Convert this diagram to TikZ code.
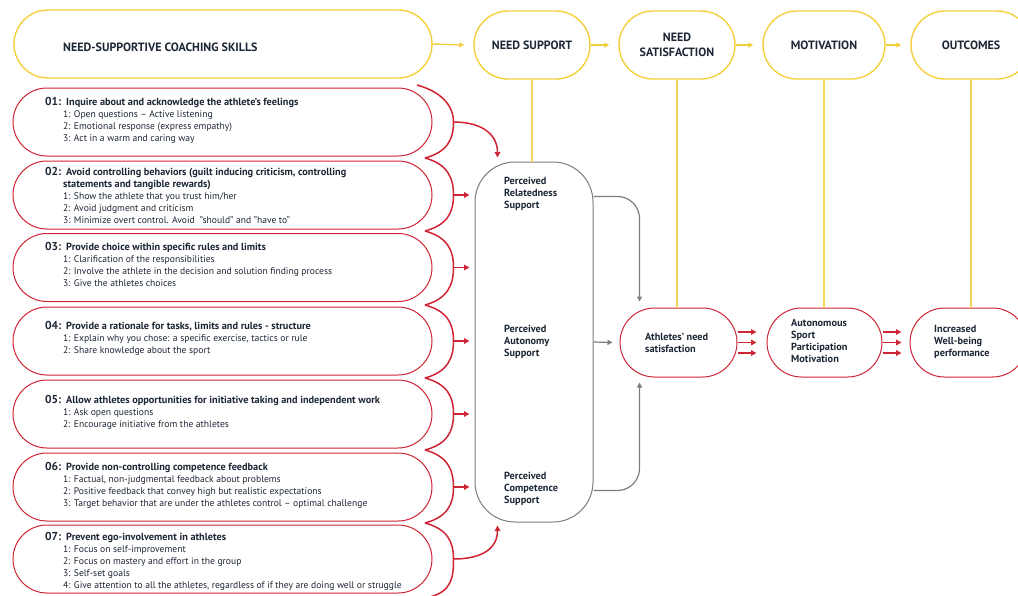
\documentclass[tikz,border=0pt]{standalone}
\usepackage{fontspec}
\setmainfont{PT Sans}
\usetikzlibrary{shapes.misc,arrows.meta,calc}
\definecolor{ink}{RGB}{28,38,52}
\definecolor{cyel}{RGB}{244,208,63}
\definecolor{cred}{RGB}{206,36,52}
\definecolor{cgray}{RGB}{125,125,125}
\newcommand\sknum[1]{\makebox[18pt][l]{\fontsize{11.5}{12}\selectfont\bfseries #1}}
\newcommand\sktitle{\bfseries\fontsize{10.3}{12.2}\selectfont}
\newcommand\skitem{\fontsize{9.6}{12.2}\selectfont}
\tikzset{
  ybox/.style={draw=cyel, line width=1.4pt, rounded rectangle, minimum height=68pt,
    inner sep=0pt, text=ink, font=\bfseries\fontsize{12}{14.5}\selectfont, align=center},
  rbox/.style={draw=cred, line width=1pt, rounded rectangle, minimum height=68pt, inner sep=0pt},
  skilltext/.style={anchor=base west, inner sep=0pt, text=ink, font=\fontsize{9.6}{12.2}\selectfont},
  lbl/.style={anchor=base west, inner sep=0pt, text=ink, font=\bfseries\fontsize{10.3}{12.2}\selectfont},
  yarrow/.style={draw=cyel, line width=1.4pt, -{Triangle[length=5pt,width=5pt]}},
  yline/.style={draw=cyel!85!white, line width=1.3pt},
  brace/.style={draw=cred, line width=1.5pt},
  rarrow/.style={draw=cred, line width=1.5pt, -{Triangle[length=5.5pt,width=5.5pt]}},
  garrow/.style={draw=cgray, line width=1.2pt, -{Triangle[length=5pt,width=5pt]}},
}
\begin{document}
\begin{tikzpicture}[x=1pt,y=-1pt]
\useasboundingbox (0,0) rectangle (1018,595);

% top row: stages of the model
\node[ybox, minimum width=418pt] (b1) at (223,44) {};
\node[anchor=base west, inner sep=0pt, text=ink, font=\bfseries\fontsize{12}{14.5}\selectfont] (b1t) at (63,51) {NEED-SUPPORTIVE COACHING SKILLS};
\node[ybox, minimum width=116pt] (b2) at (532,45) {NEED SUPPORT};
\node[ybox, minimum width=116pt] (b3) at (677,45) {NEED\\SATISFACTION};
\node[ybox, minimum width=122pt] (b4) at (824,45) {MOTIVATION};
\node[ybox, minimum width=120pt] (b5) at (971,45) {OUTCOMES};
\draw[yarrow] (b1.east) -- ($(b2.west)+(-9,0)$);
\draw[yarrow] (b2.east) -- ($(b3.west)+(-9,0)$);
\draw[yarrow] (b3.east) -- ($(b4.west)+(-9,0)$);
\draw[yarrow] (b4.east) -- ($(b5.west)+(-9,0)$);

% coaching skills
\node[rbox, minimum width=419pt] (s1) at (222.5,122) {};
\node[rbox, minimum width=419pt] (s2) at (222.5,195) {};
\node[rbox, minimum width=419pt] (s3) at (222.5,267.5) {};
\node[rbox, minimum width=419pt] (s4) at (222.5,341) {};
\node[rbox, minimum width=419pt] (s5) at (222.5,414) {};
\node[rbox, minimum width=419pt] (s6) at (222.5,487) {};
\node[rbox, minimum width=419pt] (s7) at (222.5,559) {};

\node[skilltext] (t1) at (45,105) {\begin{tabular}[t]{@{}l@{}l@{}}
\sknum{01:} & \sktitle\hspace{3pt}Inquire about and acknowledge the athlete's feelings\\
& \skitem 1: Open questions – Active listening\\
& \skitem 2: Emotional response (express empathy)\\
& \skitem 3: Act in a warm and caring way
\end{tabular}};
\node[skilltext] (t2) at (45,175) {\begin{tabular}[t]{@{}l@{}l@{}}
\sknum{02:} & \sktitle\hspace{3pt}Avoid controlling behaviors (guilt inducing criticism, controlling\\
& \sktitle statements and tangible rewards)\\
& \skitem 1: Show the athlete that you trust him/her\\
& \skitem 2: Avoid judgment and criticism\\
& \skitem 3: Minimize overt control. Avoid~ "should" and "have to"
\end{tabular}};
\node[skilltext] (t3) at (45,250) {\begin{tabular}[t]{@{}l@{}l@{}}
\sknum{03:} & \sktitle\hspace{3pt}Provide choice within specific rules and limits\\
& \skitem 1: Clarification of the responsibilities\\
& \skitem 2: Involve the athlete in the decision and solution finding process\\
& \skitem 3: Give the athletes choices
\end{tabular}};
\node[skilltext] (t4) at (45,329) {\begin{tabular}[t]{@{}l@{}l@{}}
\sknum{04:} & \sktitle\hspace{3pt}Provide a rationale for tasks, limits and rules - structure\\
& \skitem 1: Explain why you chose: a specific exercise, tactics or rule\\
& \skitem 2: Share knowledge about the sport
\end{tabular}};
\node[skilltext] (t5) at (45,403) {\begin{tabular}[t]{@{}l@{}l@{}}
\sknum{05:} & \sktitle\hspace{3pt}Allow athletes opportunities for initiative taking and independent work\\
& \skitem 1: Ask open questions\\
& \skitem 2: Encourage initiative from the athletes
\end{tabular}};
\node[skilltext] (t6) at (45,470) {\begin{tabular}[t]{@{}l@{}l@{}}
\sknum{06:} & \sktitle\hspace{3pt}Provide non-controlling competence feedback\\
& \skitem 1: Factual, non-judgmental feedback about problems\\
& \skitem 2: Positive feedback that convey high but realistic expectations\\
& \skitem 3: Target behavior that are under the athletes control – optimal challenge
\end{tabular}};
\node[skilltext] (t7) at (45,540) {\begin{tabular}[t]{@{}l@{}l@{}}
\sknum{07:} & \sktitle\hspace{3pt}Prevent ego-involvement in athletes\\
& \skitem 1: Focus on self-improvement\\
& \skitem 2: Focus on mastery and effort in the group\\
& \skitem 3: Self-set goals\\
& \skitem 4: Give attention to all the athletes, regardless of if they are doing well or struggle
\end{tabular}};

% perceived need support
\node[draw=cgray, line width=1pt, rounded corners=40pt, minimum width=118pt, minimum height=360pt, inner sep=0pt] (ps) at (534,342) {};
\node[lbl] (pr) at (504,184) {\begin{tabular}[t]{@{}l@{}}Perceived\\Relatedness\\Support\end{tabular}};
\node[lbl] (pa) at (504,332) {\begin{tabular}[t]{@{}l@{}}Perceived\\Autonomy\\Support\end{tabular}};
\node[lbl] (pc) at (504,479) {\begin{tabular}[t]{@{}l@{}}Perceived\\Competence\\Support\end{tabular}};

% braces gathering the skills
\coordinate (c0) at (417,85);
\coordinate (c1) at (425,158);
\coordinate (c2) at (425,231);
\coordinate (c3) at (425,305);
\coordinate (c4) at (425,378);
\coordinate (c5) at (425,450);
\coordinate (c6) at (425,523);
\coordinate (c7) at (430,597);
\foreach \i in {1,...,7} { \coordinate (k\i) at ($(s\i.east)+(21,0)$); }
\foreach \i [evaluate=\i as \j using int(\i-1)] in {1,...,7} {
  \draw[brace] (c\j) .. controls +(22,6) and +(0,-18) .. (k\i)
                     .. controls +(0,18) and +(22,-6) .. (c\i);
}
\foreach \i in {2,...,6} { \draw[rarrow] (k\i) -- ($(ps.west |- k\i)+(-5,0)$); }
\draw[rarrow] (k1) .. controls +(30,0) and +(0,-22) .. ($(ps.west |- ps.north)+(23,-4)$);
\draw[rarrow] (k7) .. controls +(30,0) and +(0,22) .. ($(ps.west |- ps.south)+(23,3)$);

% need satisfaction, motivation, outcomes
\node[rbox, minimum width=117pt, minimum height=69pt] (an) at (678.5,342.5) {};
\node[rbox, minimum width=115pt, minimum height=69pt] (am) at (824.5,342.5) {};
\node[rbox, minimum width=117pt, minimum height=69pt] (inc) at (968.5,342.5) {};
\node[lbl] (ant) at (645,340) {\begin{tabular}[t]{@{}l@{}}Athletes' need\\satisfaction\end{tabular}};
\node[lbl] (amt) at (791,326) {\begin{tabular}[t]{@{}l@{}}Autonomous\\Sport\\Participation\\Motivation\end{tabular}};
\node[lbl] (inct) at (934,332) {\begin{tabular}[t]{@{}l@{}}Increased\\Well-being\\performance\end{tabular}};

% links to the stage headings
\draw[yline] (b2.south) -- (b2.south |- ps.north);
\draw[yline] (b3.south) -- (b3.south |- an.north);
\draw[yline] (b4.south) -- (b4.south |- am.north);
\draw[yline] (b5.south) -- (b5.south |- inc.north);

% perceived support feeding need satisfaction
\coordinate (g1) at ($(ps.east |- ps.north)+(0,35)$);
\coordinate (g3) at ($(ps.east |- ps.south)+(0,-32)$);
\draw[garrow, rounded corners=22pt] (g1) -| ($(an.west |- an.north)+(20,-6)$);
\draw[garrow] (ps.east) -- ($(an.west)+(-7,0)$);
\draw[garrow, rounded corners=22pt] (g3) -| ($(an.west |- an.south)+(20,5)$);

% triple arrows
\foreach \dy in {-10.5,0,10.5} {
  \draw[rarrow] ([yshift=\dy pt]an.east) -- ([yshift=\dy pt, xshift=-10pt]am.west);
  \draw[rarrow] ([yshift=\dy pt]am.east) -- ([yshift=\dy pt, xshift=-8pt]inc.west);
}
\end{tikzpicture}
\end{document}
